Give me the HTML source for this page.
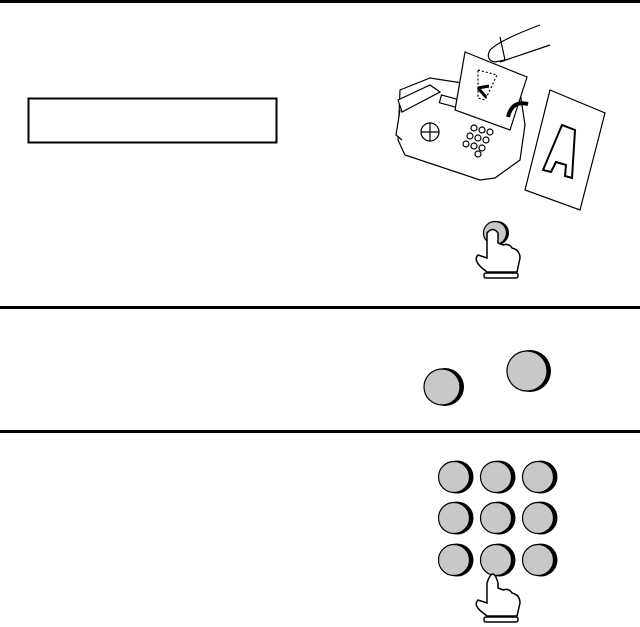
<!DOCTYPE html>
<html><head><style>body{margin:0;background:#fff}svg{display:block}</style></head><body>
<svg width="640" height="627" viewBox="0 0 640 627" xmlns="http://www.w3.org/2000/svg" fill="none" stroke="#000">
<rect x="0" y="0" width="640" height="3" fill="#000" stroke="none"/>
<rect x="0" y="306" width="640" height="3" fill="#000" stroke="none"/>
<rect x="0" y="430" width="640" height="3" fill="#000" stroke="none"/>
<rect x="28.5" y="98.5" width="248" height="44" stroke-width="2"/>
<!-- fax machine -->
<g stroke-width="1.2" fill="#fff">
<path d="M400 90 L430 78 L520 92 L525 125 L520 160 L495 178 L480 180 L405 155 L398 140 Z"/>
<path d="M398 100 L430 85 L440 92 L402 112 Z"/>
<path d="M400 110 L396 135 L402 140"/>
<rect x="440" y="98" width="25" height="8" transform="rotate(15 452 102)"/>
<circle cx="430" cy="132" r="9"/>
<path d="M430 123 V141 M421 132 H439"/>
<g fill="#fff">
<circle cx="474" cy="128" r="3"/><circle cx="482" cy="130" r="3"/><circle cx="490" cy="132" r="3"/>
<circle cx="470" cy="136" r="3"/><circle cx="478" cy="138" r="3"/><circle cx="486" cy="140" r="3"/>
<circle cx="466" cy="144" r="3"/><circle cx="474" cy="146" r="3"/><circle cx="482" cy="148" r="3"/>
<circle cx="478" cy="154" r="3"/>
</g>
<path d="M465 52 L527 77 L510 130 L455 110 Z"/>
<path d="M478 70 L497 75 L490 90 L485 100 L478 98 Z" stroke-dasharray="2 2"/>
<path d="M500 37 L505 60 L495 62 Q485 60 490 50 Q500 40 540 25 M500 62 L550 45"/>
<path d="M550 90 L605 113 L580 210 L525 190 Z"/>
<path d="M543 170 L562 125 L575 130 L572 178 L565 176 L566 165 L556 162 L551 172 Z" stroke-width="2"/>
</g>
<path d="M478 88 L486 97 M478 88 L489 86" stroke-width="3"/>
<path d="M508 117 Q512 100 528 104" stroke-width="4"/>
<!-- hand 1 -->
<circle cx="497" cy="233" r="12" fill="#000" stroke="none"/>
<circle cx="495" cy="233" r="11.5" fill="#c8c8c8" stroke-width="1.2"/>
<path d="M487 233 L487 258 L478 255 Q473 260 482 268 L487 272 L517 272 L520 258 Q520 250 512 248 Q509 243 503 245 L498 243 L498 233 Q493 226 487 233 Z" fill="#fff" stroke-width="1.5"/>
<rect x="484" y="273" width="34" height="5" rx="2" fill="#fff" stroke-width="1.5"/>
<!-- buttons -->
<g fill="#000" stroke="none">
<circle cx="445" cy="387" r="19"/>
<circle cx="530" cy="371" r="21"/>
<circle cx="457" cy="477" r="16.5"/><circle cx="499" cy="477" r="16.5"/><circle cx="541" cy="477" r="16.5"/>
<circle cx="457" cy="518" r="16.5"/><circle cx="499" cy="518" r="16.5"/><circle cx="541" cy="518" r="16.5"/>
<circle cx="457" cy="560" r="16.5"/><circle cx="499" cy="560" r="16.5"/><circle cx="541" cy="560" r="16.5"/>
</g>
<g fill="#c8c8c8" stroke-width="1.2">
<circle cx="442" cy="387" r="18"/>
<circle cx="527" cy="371" r="20"/>
<circle cx="454" cy="477" r="15.5"/><circle cx="496" cy="477" r="15.5"/><circle cx="538" cy="477" r="15.5"/>
<circle cx="454" cy="518" r="15.5"/><circle cx="496" cy="518" r="15.5"/><circle cx="538" cy="518" r="15.5"/>
<circle cx="454" cy="560" r="15.5"/><circle cx="496" cy="560" r="15.5"/><circle cx="538" cy="560" r="15.5"/>
</g>
<path d="M487 583 L487 603 L478 600 Q473 605 482 612 L487 616 L517 616 L520 603 Q520 595 512 593 Q509 588 503 590 L498 588 L498 583 Q493 565 487 583 Z" fill="#fff" stroke-width="1.5"/>
<rect x="484" y="617" width="34" height="5" rx="2" fill="#fff" stroke-width="1.5"/>
</svg>
</body></html>
